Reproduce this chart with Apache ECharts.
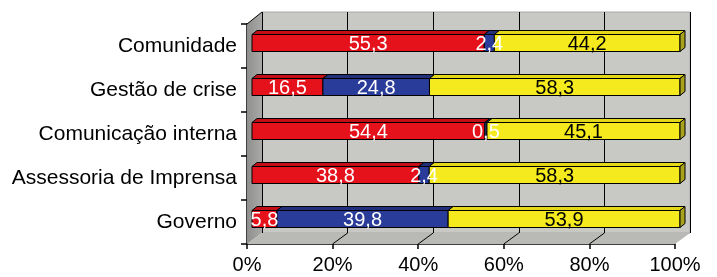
<!DOCTYPE html>
<html>
<head>
<meta charset="utf-8">
<script src="https://cdn.jsdelivr.net/npm/echarts@6/dist/echarts.min.js"></script>
<style>
  html, body { margin: 0; padding: 0; background: #fff; }
  #chart { width: 717px; height: 277px; }
</style>
</head>
<body>
<div id="chart"></div>
<script>
// categories, top to bottom
const categories = ['Comunidade', 'Gestão de crise', 'Comunicação interna', 'Assessoria de Imprensa', 'Governo'];
const redValues = [55.3, 16.5, 54.4, 38.8, 5.8];
const blueValues = [2.4, 24.8, 0.5, 2.4, 39.8];
const yellowValues = [44.2, 58.3, 45.1, 58.3, 53.9];
const xTicks = [0, 20, 40, 60, 80, 100];

const FONT = '"Liberation Sans", Arial, sans-serif';
// 3D layout: front edge, bar plane, back wall
const FRONT_L = 247, BACK_L = 262, BAR_L = 252, PLOT_W = 428;
const FRONT_T = 24, FRONT_B = 244, BACK_T = 12, BACK_B = 233;
const DEPTH_X = 5, DEPTH_Y = -4, BAR_H = 17;

const seriesDefs = [
  { values: redValues, color: '#e5121c', top: '#c40e17', text: '#fff' },
  { values: blueValues, color: '#2a3c99', top: '#22307c', text: '#fff' },
  { values: yellowValues, color: '#f4ea1e', top: '#e2d818', text: '#000', side: '#a9a31c' }
];

// 100% stacked: normalise each row
const totals = categories.map((c, i) => redValues[i] + blueValues[i] + yellowValues[i]);

function fmt(v) { return v.toFixed(1).replace('.', ','); }

function buildData(k) {
  return categories.map((c, i) => {
    let start = 0;
    for (let j = 0; j < k; j++) start += seriesDefs[j].values[i];
    const v = seriesDefs[k].values[i];
    return [i, start / totals[i] * 100, (start + v) / totals[i] * 100, v];
  });
}

function makeBar(def, isLast) {
  return function (params, api) {
    const cat = api.value(0);
    const p0 = api.coord([api.value(1), cat]);
    const p1 = api.coord([api.value(2), cat]);
    const top = p0[1] - BAR_H / 2;
    const x0 = p0[0], x1 = p1[0];
    const children = [
      { type: 'polygon', shape: { points: [[x0, top], [x0 + DEPTH_X, top + DEPTH_Y], [x1 + DEPTH_X, top + DEPTH_Y], [x1, top]] },
        style: { fill: def.top, stroke: '#000', lineWidth: 1 } },
      { type: 'rect', shape: { x: x0, y: top, width: x1 - x0, height: BAR_H },
        style: { fill: def.color, stroke: '#000', lineWidth: 1 } }
    ];
    if (isLast) {
      children.push({ type: 'polygon', shape: { points: [[x1, top], [x1 + DEPTH_X, top + DEPTH_Y], [x1 + DEPTH_X, top + DEPTH_Y + BAR_H], [x1, top + BAR_H]] },
        style: { fill: def.side, stroke: '#000', lineWidth: 1 } });
    }
    return { type: 'group', children: children };
  };
}

function makeLabel(def) {
  return function (params, api) {
    const cat = api.value(0);
    const p0 = api.coord([api.value(1), cat]);
    const p1 = api.coord([api.value(2), cat]);
    return { type: 'text', style: {
      text: fmt(api.value(3)), x: (p0[0] + p1[0]) / 2, y: p0[1] + 1,
      align: 'center', verticalAlign: 'middle', fill: def.text, font: '20px ' + FONT } };
  };
}

// walls, floor and floor grid lines (decoration)
const decor = [
  { type: 'polygon', z: 1, shape: { points: [[FRONT_L, FRONT_T], [BACK_L, BACK_T], [BACK_L, BACK_B], [FRONT_L, FRONT_B]] },
    style: { fill: new echarts.graphic.LinearGradient(0, 0, 1, 0, [{ offset: 0, color: '#8f8f8d' }, { offset: 1, color: '#a9a9a7' }]) } },
  { type: 'polygon', z: 1, shape: { points: [[FRONT_L, FRONT_B], [BACK_L, BACK_B], [BACK_L + PLOT_W, BACK_B], [FRONT_L + PLOT_W, FRONT_B]] },
    style: { fill: '#b9b9b6' } },
  { type: 'line', z: 2, shape: { x1: FRONT_L, y1: FRONT_T, x2: BACK_L, y2: BACK_T }, style: { stroke: '#000', lineWidth: 1 } }
];
xTicks.slice(1, -1).forEach(t => {
  const fx = FRONT_L + t / 100 * PLOT_W, bx = BACK_L + t / 100 * PLOT_W;
  decor.push({ type: 'line', z: 2, shape: { x1: fx, y1: FRONT_B, x2: bx, y2: BACK_B }, style: { stroke: '#000', lineWidth: 1 } });
});

const barSeries = seriesDefs.map((def, k) => ({
  type: 'custom', xAxisIndex: 0, yAxisIndex: 0, z: 5 + k,
  renderItem: makeBar(def, k === seriesDefs.length - 1),
  data: buildData(k)
}));
const labelSeries = seriesDefs.map((def, k) => ({
  type: 'custom', xAxisIndex: 0, yAxisIndex: 0, z: 20,
  renderItem: makeLabel(def),
  data: buildData(k)
}));

const chart = echarts.init(document.getElementById('chart'));
chart.setOption({
  animation: false,
  backgroundColor: '#fff',
  graphic: decor,
  grid: [
    // bar plane
    { left: BAR_L, top: 21, width: PLOT_W, height: 220 },
    // front edge (axes)
    { left: FRONT_L, top: FRONT_T, width: PLOT_W, height: FRONT_B - FRONT_T },
    // back wall
    { left: BACK_L, top: BACK_T, width: PLOT_W, height: BACK_B - BACK_T, show: true,
      backgroundColor: '#c8c8c5', borderColor: '#a8a8a6', borderWidth: 1 }
  ],
  xAxis: [
    { gridIndex: 0, type: 'value', min: 0, max: 100, interval: 20, show: false },
    { gridIndex: 1, type: 'value', min: 0, max: 100, interval: 20, position: 'bottom',
      axisLine: { show: true, lineStyle: { color: '#000', width: 1.5 } },
      axisTick: { show: true, length: 5, lineStyle: { color: '#000', width: 1.5 } },
      splitLine: { show: false },
      axisLabel: { formatter: '{value}%', color: '#000', fontSize: 20, fontFamily: FONT, margin: 11 } },
    { gridIndex: 2, type: 'value', min: 0, max: 100, interval: 20,
      axisLine: { show: false }, axisTick: { show: false }, axisLabel: { show: false },
      splitLine: { show: true, lineStyle: { color: '#000', width: 1 } } }
  ],
  yAxis: [
    { gridIndex: 0, type: 'category', data: categories, inverse: true, show: false },
    { gridIndex: 1, type: 'category', data: categories, inverse: true,
      axisLine: { show: true, lineStyle: { color: '#000', width: 1.5 } },
      axisTick: { show: true, inside: false, length: 6, lineStyle: { color: '#000', width: 1.5 } },
      axisLabel: { color: '#000', fontSize: 21, fontFamily: FONT, margin: 10 } },
    { gridIndex: 2, type: 'category', data: categories, inverse: true, show: false }
  ],
  series: barSeries.concat(labelSeries)
});
</script>
</body>
</html>
